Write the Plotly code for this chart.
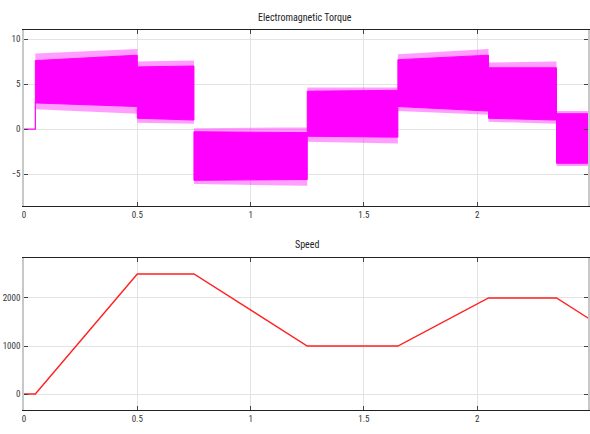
import plotly.graph_objects as go

# Torque: piecewise band segments (time boundaries and envelope values)
seg_t0 = [0.05, 0.5, 0.75, 1.25, 1.65, 2.05, 2.35]
seg_t1 = [0.5, 0.75, 1.25, 1.65, 2.05, 2.35, 2.5]
inner_up0 = [7.6, 6.9, -0.3, 4.2, 7.7, 6.8, 1.7]
inner_up1 = [8.2, 7.0, -0.4, 4.3, 8.2, 6.8, 1.7]
inner_lo0 = [2.9, 1.2, -5.7, -0.8, 2.5, 1.2, -3.8]
inner_lo1 = [2.5, 1.0, -5.6, -0.9, 2.0, 1.0, -3.8]
outer_up0 = [8.4, 7.5, 0.1, 4.6, 8.3, 7.4, 2.0]
outer_up1 = [8.9, 7.6, 0.2, 4.6, 8.9, 7.5, 2.0]
outer_lo0 = [2.2, 0.7, -6.1, -1.4, 2.0, 0.8, -4.1]
outer_lo1 = [1.7, 0.6, -6.3, -1.6, 1.6, 0.6, -4.1]
torque_pre_t = [0.0, 0.05, 0.05]
torque_pre_v = [0.0, 0.0, 3.0]

# Speed profile
speed_t = [0.0, 0.05, 0.5, 0.75, 1.25, 1.65, 2.05, 2.35, 2.5]
speed_v = [0, 0, 2500, 2500, 1000, 1000, 2000, 2000, 1550]

TITLE_FONT = "Liberation Sans Narrow, Roboto Condensed, Arial Narrow, Liberation Sans, sans-serif"

def polys(up0, up1, lo0, lo1):
    xs, ys = [], []
    for a, b, u0, u1, l0, l1 in zip(seg_t0, seg_t1, up0, up1, lo0, lo1):
        xs += [a, b, b, a, a, None]
        ys += [u0, u1, l1, l0, u0, None]
    return xs, ys

fig = go.Figure()
ox, oy = polys(outer_up0, outer_up1, outer_lo0, outer_lo1)
fig.add_trace(go.Scatter(x=ox, y=oy, fill="toself", mode="lines",
                         line=dict(color="rgba(255,0,255,0)", width=0),
                         fillcolor="rgba(255,0,255,0.38)", xaxis="x", yaxis="y",
                         showlegend=False, hoverinfo="skip"))
ix, iy = polys(inner_up0, inner_up1, inner_lo0, inner_lo1)
fig.add_trace(go.Scatter(x=ix, y=iy, fill="toself", mode="lines",
                         line=dict(color="#ff00ff", width=1),
                         fillcolor="#ff00ff", xaxis="x", yaxis="y",
                         showlegend=False))
fig.add_trace(go.Scatter(x=torque_pre_t, y=torque_pre_v, mode="lines",
                         line=dict(color="#ff00ff", width=1.2),
                         xaxis="x", yaxis="y", showlegend=False))
fig.add_trace(go.Scatter(x=speed_t, y=speed_v, mode="lines",
                         line=dict(color="#ff2020", width=1.4),
                         xaxis="x2", yaxis="y2", showlegend=False))

xr = [0, 2.489]
common_x = dict(range=xr, tickvals=[0, 0.5, 1, 1.5, 2], ticktext=["0", "0.5", "1", "1.5", "2"],
                showgrid=True, gridcolor="#e3e3e3", gridwidth=1, zeroline=False,
                showline=True, linecolor="#222", linewidth=1.2, mirror="ticks",
                ticks="inside", ticklen=4, tickcolor="#444",
                tickfont=dict(family=TITLE_FONT, size=9, color="#333"))
common_y = dict(showgrid=True, gridcolor="#e3e3e3", gridwidth=1, zeroline=False,
                showline=True, linecolor="#c8c8c8", linewidth=1.5, mirror="ticks",
                ticks="inside", ticklen=4, tickcolor="#444",
                tickfont=dict(family=TITLE_FONT, size=9, color="#333"))

fig.update_layout(
    width=590, height=434,
    margin=dict(l=24, r=0, t=30, b=24),
    paper_bgcolor="white", plot_bgcolor="white",
    xaxis=dict(common_x, anchor="y"),
    yaxis=dict(common_y, domain=[0.5368, 1.0], range=[-8.55, 11], tickvals=[-5, 0, 5, 10]),
    xaxis2=dict(common_x, anchor="y2"),
    yaxis2=dict(common_y, domain=[0.0, 0.4], range=[-333, 2833], tickvals=[0, 1000, 2000]),
    annotations=[
        dict(text="Electromagnetic Torque", x=0.498, y=1.0, xref="paper", yref="paper",
             yanchor="bottom", yshift=5,
             showarrow=False, font=dict(family=TITLE_FONT, size=10, color="#222")),
        dict(text="Speed", x=0.502, y=0.4, xref="paper", yref="paper",
             yanchor="bottom", yshift=6,
             showarrow=False, font=dict(family=TITLE_FONT, size=10, color="#222")),
    ],
)

fig.write_html("out.html")
